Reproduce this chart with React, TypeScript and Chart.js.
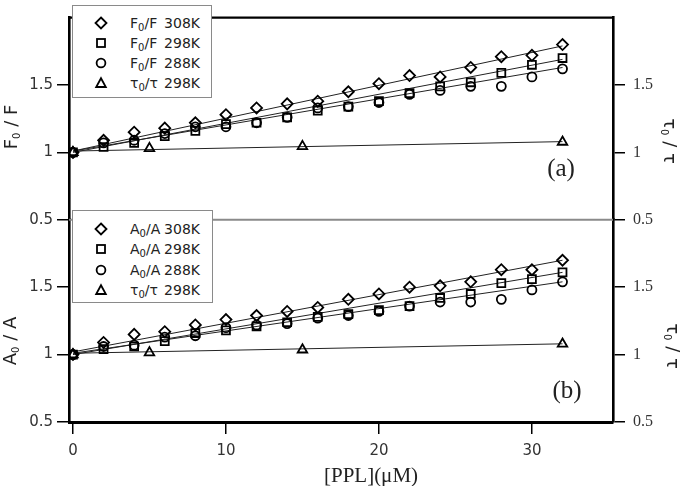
import React, { useEffect, useRef } from 'react';
import { Chart, registerables } from 'chart.js';

Chart.register(...registerables);

// ---------- data ----------
const concentrations = [0, 2, 4, 6, 8, 10, 12, 14, 16, 18, 20, 22, 24, 26, 28, 30, 32];
const tauConcentrations = [0, 5, 15, 32];

// panel (a): F0/F
const f0f308 = [1.0, 1.09, 1.15, 1.18, 1.22, 1.28, 1.33, 1.36, 1.38, 1.45, 1.51, 1.57, 1.56, 1.63, 1.71, 1.72, 1.8];
const f0f298 = [1.0, 1.04, 1.07, 1.12, 1.16, 1.21, 1.22, 1.26, 1.31, 1.34, 1.38, 1.44, 1.49, 1.52, 1.59, 1.65, 1.7];
const f0f288 = [1.0, 1.07, 1.09, 1.14, 1.19, 1.19, 1.22, 1.26, 1.33, 1.34, 1.37, 1.43, 1.46, 1.49, 1.49, 1.56, 1.62];
const tauTop = [1.0, 1.03, 1.045, 1.077];

// panel (b): A0/A
const a0a308 = [1.0, 1.09, 1.15, 1.17, 1.22, 1.26, 1.29, 1.32, 1.35, 1.41, 1.45, 1.5, 1.51, 1.54, 1.63, 1.63, 1.7];
const a0a298 = [1.0, 1.04, 1.06, 1.1, 1.16, 1.18, 1.21, 1.24, 1.28, 1.3, 1.33, 1.36, 1.42, 1.45, 1.53, 1.56, 1.61];
const a0a288 = [1.0, 1.06, 1.07, 1.13, 1.14, 1.2, 1.22, 1.23, 1.27, 1.29, 1.32, 1.36, 1.39, 1.39, 1.41, 1.48, 1.54];
const tauBottom = [1.0, 1.015, 1.036, 1.079];

// fitted straight lines (start at x=0, end at x=32)
const fitRange = [0, 32];
const fitTop308 = [1.01, 1.79];
const fitTop298 = [1.0, 1.69];
const fitTop288 = [1.01, 1.63];
const fitTopTau = [1.01, 1.08];
const fitBot308 = [1.02, 1.7];
const fitBot298 = [1.0, 1.61];
const fitBot288 = [1.01, 1.54];
const fitBotTau = [1.01, 1.08];

// ticks
const xTicks = [0, 10, 20, 30];
const yTicks = [0.5, 1, 1.5];

// ---------- helpers ----------
const pts = (xs: number[], ys: number[]) => xs.map((x, i) => ({ x, y: ys[i] }));

const marker = (data: { x: number; y: number }[], style: string, radius: number, axis: string) => ({
  type: 'scatter' as const,
  data,
  yAxisID: axis,
  showLine: false,
  pointStyle: style,
  pointRadius: radius,
  pointBorderColor: '#000',
  pointBackgroundColor: 'rgba(0,0,0,0)',
  pointBorderWidth: 1.8,
  order: 1,
});

const fitLine = (ys: number[], axis: string) => ({
  type: 'line' as const,
  data: pts(fitRange, ys),
  yAxisID: axis,
  borderColor: '#222',
  borderWidth: 1,
  pointRadius: 0,
  fill: false,
  order: 2,
});

const tickFont = { family: 'DejaVu Sans', size: 15 };
const serifTickFont = { family: 'Liberation Serif', size: 16 };

const yScale = (pos: 'left' | 'right', width: number) => ({
  type: 'linear' as const,
  position: pos,
  stack: pos,
  stackWeight: 1,
  min: 0.5,
  max: 2.0,
  afterBuildTicks: (s: any) => {
    s.ticks = yTicks.map((v) => ({ value: v }));
  },
  afterFit: (s: any) => {
    s.width = width;
  },
  grid: { drawOnChartArea: false, drawTicks: true, tickLength: 12, color: '#000', lineWidth: 1.5 },
  border: { display: true, color: '#000', width: 2.6 },
  ticks: {
    font: pos === 'left' ? tickFont : serifTickFont,
    color: '#333',
    padding: pos === 'left' ? 4 : 8,
    callback: (v: any) => String(v),
  },
});

const framePlugin = {
  id: 'frame',
  beforeDatasetsDraw(chart: any) {
    const { ctx, chartArea } = chart;
    const mid = chart.scales.yTop.bottom;
    ctx.save();
    ctx.strokeStyle = '#8a8a8a';
    ctx.lineWidth = 2;
    ctx.beginPath();
    ctx.moveTo(chartArea.left, mid);
    ctx.lineTo(chartArea.right, mid);
    ctx.stroke();
    ctx.restore();
  },
  afterDraw(chart: any) {
    const { ctx, chartArea } = chart;
    ctx.save();
    ctx.strokeStyle = '#000';
    ctx.lineWidth = 2.2;
    ctx.beginPath();
    ctx.moveTo(chartArea.left - 1, chartArea.top);
    ctx.lineTo(chartArea.right + 1, chartArea.top);
    ctx.stroke();
    ctx.restore();
  },
};

// ---------- legend pieces ----------
const Sym = ({ kind }: { kind: string }) => {
  const s = { fill: 'none', stroke: '#000', strokeWidth: 1.8 };
  return (
    <svg width="14" height="14" viewBox="0 0 14 14" style={{ display: 'block' }}>
      {kind === 'diamond' && <path d="M7 1.5 L12.5 7 L7 12.5 L1.5 7 Z" {...s} />}
      {kind === 'square' && <rect x="3" y="3" width="8" height="8" {...s} />}
      {kind === 'circle' && <circle cx="7" cy="7" r="4.4" {...s} />}
      {kind === 'triangle' && <path d="M7 2.2 L11.8 11 L2.2 11 Z" {...s} />}
    </svg>
  );
};

const Sub = ({ children }: { children: React.ReactNode }) => (
  <span style={{ fontSize: '10px', position: 'relative', top: '3px' }}>{children}</span>
);

type Row = { kind: string; a: string; b: string; temp: string };

const Legend = ({ left, top, width, height, rows, rowTop, rowGap }: any) => (
  <div
    style={{
      position: 'absolute',
      left,
      top,
      width,
      height,
      border: '1.5px solid #8a8a8a',
      background: '#fff',
      boxSizing: 'border-box',
    }}
  >
    {rows.map((r: Row, i: number) => (
      <div
        key={i}
        style={{
          position: 'absolute',
          left: 0,
          top: rowTop + i * rowGap - 9,
          height: 18,
          width: '100%',
          fontFamily: 'DejaVu Sans',
          fontSize: '14px',
          color: '#222',
          lineHeight: '18px',
        }}
      >
        <div style={{ position: 'absolute', left: 21, top: 2 }}>
          <Sym kind={r.kind} />
        </div>
        <div style={{ position: 'absolute', left: 57, width: 70, display: 'flex', justifyContent: 'space-between', whiteSpace: 'nowrap' }}>
          <span>
            {r.a}
            <Sub>0</Sub>/{r.b}
          </span>
          <span>{r.temp}</span>
        </div>
      </div>
    ))}
  </div>
);

const Rot = ({ cx, cy, deg, style, children }: any) => (
  <div
    style={{
      position: 'absolute',
      left: cx,
      top: cy,
      transform: `translate(-50%, -50%) rotate(${deg}deg)`,
      whiteSpace: 'nowrap',
      lineHeight: 1,
      ...style,
    }}
  >
    {children}
  </div>
);

const topRows: Row[] = [
  { kind: 'diamond', a: 'F', b: 'F', temp: '308K' },
  { kind: 'square', a: 'F', b: 'F', temp: '298K' },
  { kind: 'circle', a: 'F', b: 'F', temp: '288K' },
  { kind: 'triangle', a: 'τ', b: 'τ', temp: '298K' },
];
const botRows: Row[] = [
  { kind: 'diamond', a: 'A', b: 'A', temp: '308K' },
  { kind: 'square', a: 'A', b: 'A', temp: '298K' },
  { kind: 'circle', a: 'A', b: 'A', temp: '288K' },
  { kind: 'triangle', a: 'τ', b: 'τ', temp: '298K' },
];

export default function App() {
  const ref = useRef<HTMLCanvasElement | null>(null);

  useEffect(() => {
    if (!ref.current) return;
    const chart = new Chart(ref.current, {
      type: 'scatter',
      data: {
        datasets: [
          marker(pts(concentrations, f0f308), 'rectRot', 5.5, 'yTop'),
          marker(pts(concentrations, f0f298), 'rect', 5.6, 'yTop'),
          marker(pts(concentrations, f0f288), 'circle', 4.5, 'yTop'),
          marker(pts(tauConcentrations, tauTop), 'triangle', 5.5, 'rTop'),
          fitLine(fitTop308, 'yTop'),
          fitLine(fitTop298, 'yTop'),
          fitLine(fitTop288, 'yTop'),
          fitLine(fitTopTau, 'rTop'),
          marker(pts(concentrations, a0a308), 'rectRot', 5.5, 'yBot'),
          marker(pts(concentrations, a0a298), 'rect', 5.6, 'yBot'),
          marker(pts(concentrations, a0a288), 'circle', 4.5, 'yBot'),
          marker(pts(tauConcentrations, tauBottom), 'triangle', 5.5, 'rBot'),
          fitLine(fitBot308, 'yBot'),
          fitLine(fitBot298, 'yBot'),
          fitLine(fitBot288, 'yBot'),
          fitLine(fitBotTau, 'rBot'),
        ] as any,
      },
      options: {
        animation: false,
        responsive: false,
        layout: { padding: { top: 2, left: 0, right: 0, bottom: 0 } },
        plugins: { legend: { display: false }, tooltip: { enabled: false } },
        scales: {
          x: {
            type: 'linear',
            position: 'bottom',
            min: -0.26,
            max: 35.3,
            afterBuildTicks: (s: any) => {
              s.ticks = xTicks.map((v) => ({ value: v }));
            },
            afterFit: (s: any) => {
              s.height = 64;
            },
            grid: { drawOnChartArea: false, drawTicks: true, tickLength: 12, color: '#000', lineWidth: 1.5 },
            border: { display: true, color: '#000', width: 3 },
            ticks: { font: tickFont, color: '#333', padding: 8, maxRotation: 0 },
          },
          yBot: yScale('left', 69),
          yTop: yScale('left', 69),
          rTop: yScale('right', 72),
          rBot: yScale('right', 72),
        } as any,
      },
      plugins: [framePlugin],
    });
    return () => chart.destroy();
  }, []);

  const titleStyle = { fontFamily: 'DejaVu Sans', fontSize: '18px', color: '#222' };
  const serif = { fontFamily: 'Liberation Serif', color: '#222' };

  return (
    <div style={{ position: 'absolute', left: 0, top: 0, width: 685, height: 486, background: '#fff', overflow: 'hidden' }}>
      <canvas ref={ref} width={685} height={486} style={{ width: 685, height: 486, display: 'block' }} />
      <Legend left={72} top={5} width={140} height={93} rows={topRows} rowTop={17} rowGap={20} />
      <Legend left={72} top={210} width={141} height={93} rows={botRows} rowTop={18} rowGap={20.3} />
      <Rot cx={11} cy={127} deg={-90} style={titleStyle}>
        F<Sub>0</Sub> / F
      </Rot>
      <Rot cx={10} cy={341} deg={-90} style={titleStyle}>
        A<Sub>0</Sub> / A
      </Rot>
      <Rot cx={670} cy={141} deg={90} style={titleStyle}>
        τ<Sub>0</Sub> / τ
      </Rot>
      <Rot cx={673} cy={346} deg={90} style={titleStyle}>
        τ<Sub>0</Sub> / τ
      </Rot>
      <Rot cx={561} cy={167} deg={0} style={{ ...serif, fontSize: '25px' }}>
        (a)
      </Rot>
      <Rot cx={567} cy={389} deg={0} style={{ ...serif, fontSize: '25px' }}>
        (b)
      </Rot>
      <Rot cx={371} cy={475} deg={0} style={{ ...serif, fontSize: '21px' }}>
        [PPL](μM)
      </Rot>
    </div>
  );
}
